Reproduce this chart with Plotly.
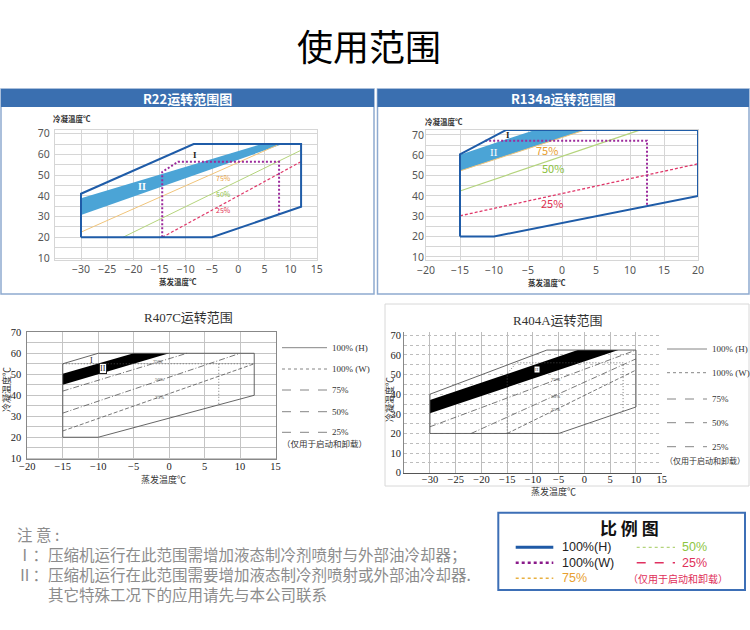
import plotly.graph_objects as go

W, H = 750, 630
def PX(v): return v / W
def PY(v): return 1 - v / H

SANS = "Noto Sans CJK SC, Noto Sans, sans-serif"
NUM = "Noto Sans, Open Sans, sans-serif"
SERIF = "Liberation Serif, DejaVu Serif, Noto Sans CJK SC, serif"

# ---------------- DATA ----------------
# R22 operating envelope (evaporating temp, condensing temp)
R22_ENV_X = [-30, -5, 12, 12, -8.5, -30, -30]
R22_ENV_Y = [20, 20, 34.7, 65, 65, 41, 20]
R22_BAND_X = [-30, 4.5, 8.5, -30]
R22_BAND_Y = [38.8, 65, 65, 30.8]
R22_W_X = [-14.5, -14.5, -11.5, 7.8, 7.8]
R22_W_Y = [20, 51.5, 56.4, 56.4, 31.2]
R22_75_X = [-30, 7.5]
R22_75_Y = [22.5, 64.5]
R22_50_X = [-22, 12]
R22_50_Y = [20, 62]
R22_25_X = [-14.5, 12]
R22_25_Y = [20, 56.5]

# R134a
R134_ENV_X = [-15, -10, 20, 20, -8.2, -15, -15]
R134_ENV_Y = [20, 20, 40, 72.5, 72.5, 60.5, 20]
R134_BAND_X = [-15, -4, 3.4, -15]
R134_BAND_Y = [60.3, 72.5, 72.5, 52.3]
R134_W_X = [-11.3, 12.5, 12.5]
R134_W_Y = [67.2, 67.2, 35.2]
R134_75_X = [-15, 3.4]
R134_75_Y = [52.3, 72.5]
R134_50_X = [-15, 11.3]
R134_50_Y = [42.4, 72.3]
R134_25_X = [-15, 20]
R134_25_Y = [30.2, 55.8]

# R407C
R407_ENV_X = [-15, -10, 12, 12, -10, -15, -15]
R407_ENV_Y = [20, 20, 40, 60, 60, 55, 20]
R407_BAND_X = [-15, -5, 0, -15]
R407_BAND_Y = [50.2, 60, 60, 45]
R407_W_X = [-15, 12, None, 7, 7]
R407_W_Y = [55, 55, None, 55, 35.5]
R407_75_X = [-15, 2.5]
R407_75_Y = [42, 60]
R407_50_X = [-15, 10]
R407_50_Y = [31.5, 60]
R407_25_X = [-15, 12]
R407_25_Y = [23, 55]

# R404A
R404_ENV_X = [-30, -5, 10, 10, -7.3, -30, -30]
R404_ENV_Y = [20, 20, 33.5, 62.5, 62.5, 40, 20]
R404_BAND_X = [-30, -1.3, 6.6, -30]
R404_BAND_Y = [37, 62.5, 62.5, 30.3]
R404_W_X = [-15, -15, -13.2, 7.5, 7.5]
R404_W_Y = [20, 50.5, 56, 56, 31.3]
R404_75_X = [-30, 10]
R404_75_Y = [23.4, 62.5]
R404_50_X = [-22, 10]
R404_50_Y = [20, 58]
R404_25_X = [-15, 10]
R404_25_Y = [20, 52.3]

# tick labels
R22_XTICKS = [-30, -25, -20, -15, -10, -5, 0, 5, 10, 15]
R134_XTICKS = [-20, -15, -10, -5, 0, 5, 10, 15, 20]
R407_XTICKS = [-20, -15, -10, -5, 0, 5, 10, 15]
R404_XTICKS = [-30, -25, -20, -15, -10, -5, 0, 5, 10, 15]
YTICKS_10_70 = [10, 20, 30, 40, 50, 60, 70]
YTICKS_0_70 = [0, 10, 20, 30, 40, 50, 60, 70]

NOTES = [
    "注 意 :",
    "Ⅰ：压缩机运行在此范围需增加液态制冷剂喷射与外部油冷却器；",
    "Ⅱ：压缩机运行在此范围需要增加液态制冷剂喷射或外部油冷却器.",
    "　　其它特殊工况下的应用请先与本公司联系",
]

fig = go.Figure()

def line(xs, ys, ax, color, width, dash="solid"):
    fig.add_trace(go.Scatter(x=xs, y=ys, xaxis="x" + ax, yaxis="y" + ax, mode="lines",
                             line=dict(color=color, width=width, dash=dash),
                             hoverinfo="skip", showlegend=False, connectgaps=False))

def band(xs, ys, ax, color):
    fig.add_trace(go.Scatter(x=xs, y=ys, xaxis="x" + ax, yaxis="y" + ax, mode="lines",
                             fill="toself", fillcolor=color, line=dict(width=0, color=color),
                             hoverinfo="skip", showlegend=False))

BLUE = "#1f5ca8"
BAND = "#4ba4d6"
PURPLE = "#9c2a9c"
YEL = "#f0c47a"
GRN = "#b4d47c"
RED = "#e0386a"

# R22
band(R22_BAND_X, R22_BAND_Y, "", BAND)
line(R22_75_X, R22_75_Y, "", YEL, 1)
line(R22_50_X, R22_50_Y, "", GRN, 1)
line(R22_25_X, R22_25_Y, "", RED, 1.2, "3px,2px")
line(R22_W_X, R22_W_Y, "", PURPLE, 2, "2px,2px")
line(R22_ENV_X, R22_ENV_Y, "", BLUE, 2)

# R134a
band(R134_BAND_X, R134_BAND_Y, "2", BAND)
line(R134_75_X, R134_75_Y, "2", YEL, 1)
line(R134_50_X, R134_50_Y, "2", GRN, 1.2)
line(R134_25_X, R134_25_Y, "2", RED, 1.3, "3px,2px")
line(R134_W_X, R134_W_Y, "2", PURPLE, 2, "2px,2px")
line(R134_ENV_X, R134_ENV_Y, "2", BLUE, 2)

# R407C
G = "#555555"
band(R407_BAND_X, R407_BAND_Y, "3", "#000000")
line(R407_75_X, R407_75_Y, "3", G, 0.8, "6px,2px,1px,2px")
line(R407_50_X, R407_50_Y, "3", G, 0.8, "6px,2px,1px,2px")
line(R407_25_X, R407_25_Y, "3", G, 0.8, "4px,2px")
line(R407_W_X, R407_W_Y, "3", G, 0.8, "1px,2px")
line(R407_ENV_X, R407_ENV_Y, "3", G, 0.9)

# R404A
band(R404_BAND_X, R404_BAND_Y, "4", "#000000")
line(R404_75_X, R404_75_Y, "4", G, 0.8, "6px,2px,1px,2px")
line(R404_50_X, R404_50_Y, "4", G, 0.8, "6px,2px,1px,2px")
line(R404_25_X, R404_25_Y, "4", G, 0.8, "4px,2px")
line(R404_W_X, R404_W_Y, "4", G, 0.8, "1px,2px")
line(R404_ENV_X, R404_ENV_Y, "4", G, 0.9)

# ---------------- AXES ----------------
def xax(dom, rng, ticks, anchor, font, grid, linec, standoff, griddash="solid", mirror=True):
    return dict(domain=dom, range=rng, tickvals=ticks, anchor=anchor, showgrid=True,
                gridcolor=grid, gridwidth=1, griddash=griddash, zeroline=False, showline=True,
                mirror=mirror, linecolor=linec, linewidth=1, ticks="", tickfont=font,
                ticklabelstandoff=standoff, fixedrange=True, automargin=False)

def yax(dom, rng, ticks, anchor, font, grid, linec, standoff, griddash="solid", mirror=True):
    return dict(domain=dom, range=rng, tickvals=ticks, anchor=anchor, showgrid=True,
                gridcolor=grid, gridwidth=1, griddash=griddash, zeroline=False, showline=True,
                mirror=mirror, linecolor=linec, linewidth=1, ticks="", tickfont=font,
                ticklabelstandoff=standoff, fixedrange=True, automargin=False,
                minor=dict(dtick=5, tick0=0, showgrid=True, gridcolor=grid, griddash=griddash))

f1 = dict(family=NUM, size=10.5, color="#555555")
fs = dict(family=SERIF, size=10.5, color="#222222")

layout = dict(
    width=W, height=H, autosize=False, margin=dict(l=0, r=0, t=0, b=0, autoexpand=False),
    paper_bgcolor="white", plot_bgcolor="white", showlegend=False,
    xaxis=xax([PX(54.8), PX(316.8)], [-35, 15], R22_XTICKS, "y", f1, "#d6d6d6", "#d6d6d6", -1),
    yaxis=yax([PY(260.1), PY(129.5)], [9, 72], YTICKS_10_70, "x", f1, "#d6d6d6", "#d6d6d6", 2),
    xaxis2=xax([PX(426), PX(698)], [-20, 20], R134_XTICKS, "y2", f1, "#d6d6d6", "#d6d6d6", 0),
    yaxis2=yax([PY(259.9), PY(129.7)], [8.5, 72.6], YTICKS_10_70, "x2", f1, "#d6d6d6", "#d6d6d6", -1),
    xaxis3=xax([PX(27.3), PX(275.5)], [-20, 15], R407_XTICKS, "y3", fs, "#c4c4c4", "#888888", -3),
    yaxis3=yax([PY(459.3), PY(332.3)], [9.5, 70], YTICKS_10_70, "x3", fs, "#c4c4c4", "#888888", 3),
    xaxis4=xax([PX(404.2), PX(661.7)], [-35, 15], R404_XTICKS, "y4", fs, "#bdbdbd", "#555555", -3, mirror=False),
    yaxis4=yax([PY(472.7), PY(332.4)], [0, 71.5], YTICKS_0_70, "x4", fs, "#bdbdbd", "#888888", 0, "dot", mirror=False),
)
fig.update_layout(**layout)

shapes = []
ann = []

def rect(x0, y0, x1, y1, lc, lw, fill=None, layer="above"):
    shapes.append(dict(type="rect", xref="paper", yref="paper", x0=PX(x0), x1=PX(x1), y0=PY(y1), y1=PY(y0),
                       line=dict(color=lc, width=lw), fillcolor=fill if fill else "rgba(0,0,0,0)", layer=layer))

def hline(x0, x1, y, color, width, dash="solid"):
    shapes.append(dict(type="line", xref="paper", yref="paper", x0=PX(x0), x1=PX(x1), y0=PY(y), y1=PY(y),
                       line=dict(color=color, width=width, dash=dash)))

def text(s, x, y, size, color="#222", family=SANS, xanchor="center", bold=False, textangle=0, **kw):
    if bold:
        s = "<b>" + s + "</b>"
    ann.append(dict(text=s, x=PX(x), y=PY(y), xref="paper", yref="paper", showarrow=False,
                    xanchor=xanchor, yanchor="middle", font=dict(size=size, color=color, family=family),
                    textangle=textangle, **kw))

def dtext(s, x, y, ax, size, color="#222", family=SANS, bold=False, **kw):
    if bold:
        s = "<b>" + s + "</b>"
    ann.append(dict(text=s, x=x, y=y, xref="x" + ax, yref="y" + ax, showarrow=False,
                    xanchor="center", yanchor="middle", font=dict(size=size, color=color, family=family), **kw))

# Main title
text("使用范围", 369, 45, 36, "#000000")

# Panels R22 / R134a
HEAD = "#3a6fb0"
PANEL = "#8eaad0"
rect(1, 89, 374, 294, PANEL, 1.5)
rect(377.5, 89, 749, 294, PANEL, 1.5)
rect(1, 89, 374, 107, HEAD, 0, HEAD)
rect(377.5, 89, 749, 107, HEAD, 0, HEAD)
text("R22运转范围图", 187, 98.5, 13, "white", bold=True)
text("R134a运转范围图", 563, 98.5, 13, "white", bold=True)
text("冷凝温度℃", 72, 118, 7.5, "#333", bold=True)
text("蒸发温度℃", 178, 281, 7.5, "#333", bold=True)
text("冷凝温度℃", 444, 122, 7.5, "#333", bold=True)
text("蒸发温度℃", 547, 282, 7.5, "#333", bold=True)

# R22 in-chart labels
dtext("75%", -2.8, 48.4, "", 7, "#e8a040")
dtext("50%", -2.8, 40.9, "", 7, "#8cc040")
dtext("25%", -2.8, 33.2, "", 7, "#e03050")
dtext("I", -8.2, 59.6, "", 9, "#222", family=SERIF, bold=True)
dtext("II", -18.4, 44.4, "", 10, "white", family=SERIF, bold=True)
# R134a in-chart labels
dtext("75%", -2.2, 62.6, "2", 11, "#e8a030")
dtext("50%", -1.3, 53.9, "2", 11, "#8cc040")
dtext("25%", -1.5, 36.4, "2", 11, "#e03050")
dtext("I", -7.9, 70.2, "2", 9, "#222", family=SERIF, bold=True)
dtext("II", -10, 61.8, "2", 11, "white", family=SERIF)

# R407C
text("R407C运转范围", 188, 317, 13, "#333", family=SERIF)
text("冷凝温度℃", 6, 390, 9, "#333", family=SANS, textangle=-90)
text("蒸发温度℃", 163, 479, 9, "#333", family=SANS)
dtext("75%", -1.7, 56, "3", 5, "#444", family=SERIF)
dtext("50%", -1.4, 47.3, "3", 5, "#444", family=SERIF)
dtext("25%", -1.4, 38.9, "3", 5, "#444", family=SERIF)
dtext("I", -10.9, 56.8, "3", 8, "#222", family=SERIF)
dtext("II", -9.3, 52.9, "3", 8, "#222", family=SERIF, bgcolor="white", bordercolor="#222",
      borderwidth=1, borderpad=0)
leg_rows_407 = [347.7, 369, 390, 411.7, 432.3]
leg_lab = ["100% (H)", "100% (W)", "75%", "50%", "25%"]
leg_dash = ["solid", "dot", "dash", "dash", "dash"]
for yv, lab, ds in zip(leg_rows_407, leg_lab, leg_dash):
    hline(282, 327, yv, "#666", 0.8, ds)
    text(lab, 330, yv, 9, "#333", family=SERIF, xanchor="left")
text("（仅用于启动和卸载）", 324.5, 443.3, 8.5, "#333", family=SANS)

# R404A
rect(385, 304, 749, 486, "#d8d8d8", 1)
text("R404A运转范围", 558, 320, 13, "#333", family=SERIF)
text("冷凝温度℃", 389, 400, 9, "#333", family=SANS, textangle=-90)
text("蒸发温度℃", 553, 491, 9, "#333", family=SANS)
dtext("75%", -5.7, 47.6, "4", 5, "#444", family=SERIF)
dtext("50%", -5.7, 38.7, "4", 5, "#444", family=SERIF)
dtext("25%", -5.7, 32.3, "4", 5, "#444", family=SERIF)
dtext("II", -9.3, 52.8, "4", 5, "#555", family=SERIF, bgcolor="white", borderpad=0)
leg_rows_404 = [349, 372.7, 399, 422.7, 446.7]
for yv, lab, ds in zip(leg_rows_404, leg_lab, leg_dash):
    hline(667, 707, yv, "#666", 0.8, ds)
    text(lab, 710, yv, 9, "#333", family=SERIF, xanchor="left")
text("（仅用于启动和卸载）", 705, 461, 8, "#333", family=SANS)

# Notes (one multi-line block)
NOTE = "#8c8c8c"
text("<br>".join(NOTES), 15, 564, 15.5, NOTE, xanchor="left", align="left")

# Legend box
rect(498.3, 512.7, 745, 590, "#3d6fb6", 2)
text("比 例 图", 629, 527, 17, "#111", bold=True)
hline(515.7, 553.3, 547.3, "#1f5aa6", 3)
hline(515.7, 553.3, 562.7, "#8a1a8a", 2.5, "dot")
hline(515.7, 553.3, 578.3, "#e8b040", 1.5, "dot")
hline(636.7, 675, 547.3, "#b4d47c", 1.2, "dot")
hline(636.7, 675, 562.7, "#e03060", 1.5, "dash")
LF = "Liberation Sans, Noto Sans, sans-serif"
text("100%(H)", 560, 547.3, 12.5, "#222", family=LF, xanchor="left")
text("100%(W)", 560, 562.7, 12.5, "#222", family=LF, xanchor="left")
text("75%", 560, 578.3, 12.5, "#e8a030", family=LF, xanchor="left")
text("50%", 680, 547.3, 12.5, "#8dc63f", family=LF, xanchor="left")
text("25%", 680, 562.7, 12.5, "#e0305a", family=LF, xanchor="left")
text("（仅用于启动和卸载）", 677.5, 578.3, 10, "#e0305a")

fig.update_layout(shapes=shapes, annotations=ann)
fig.write_html("out.html")
